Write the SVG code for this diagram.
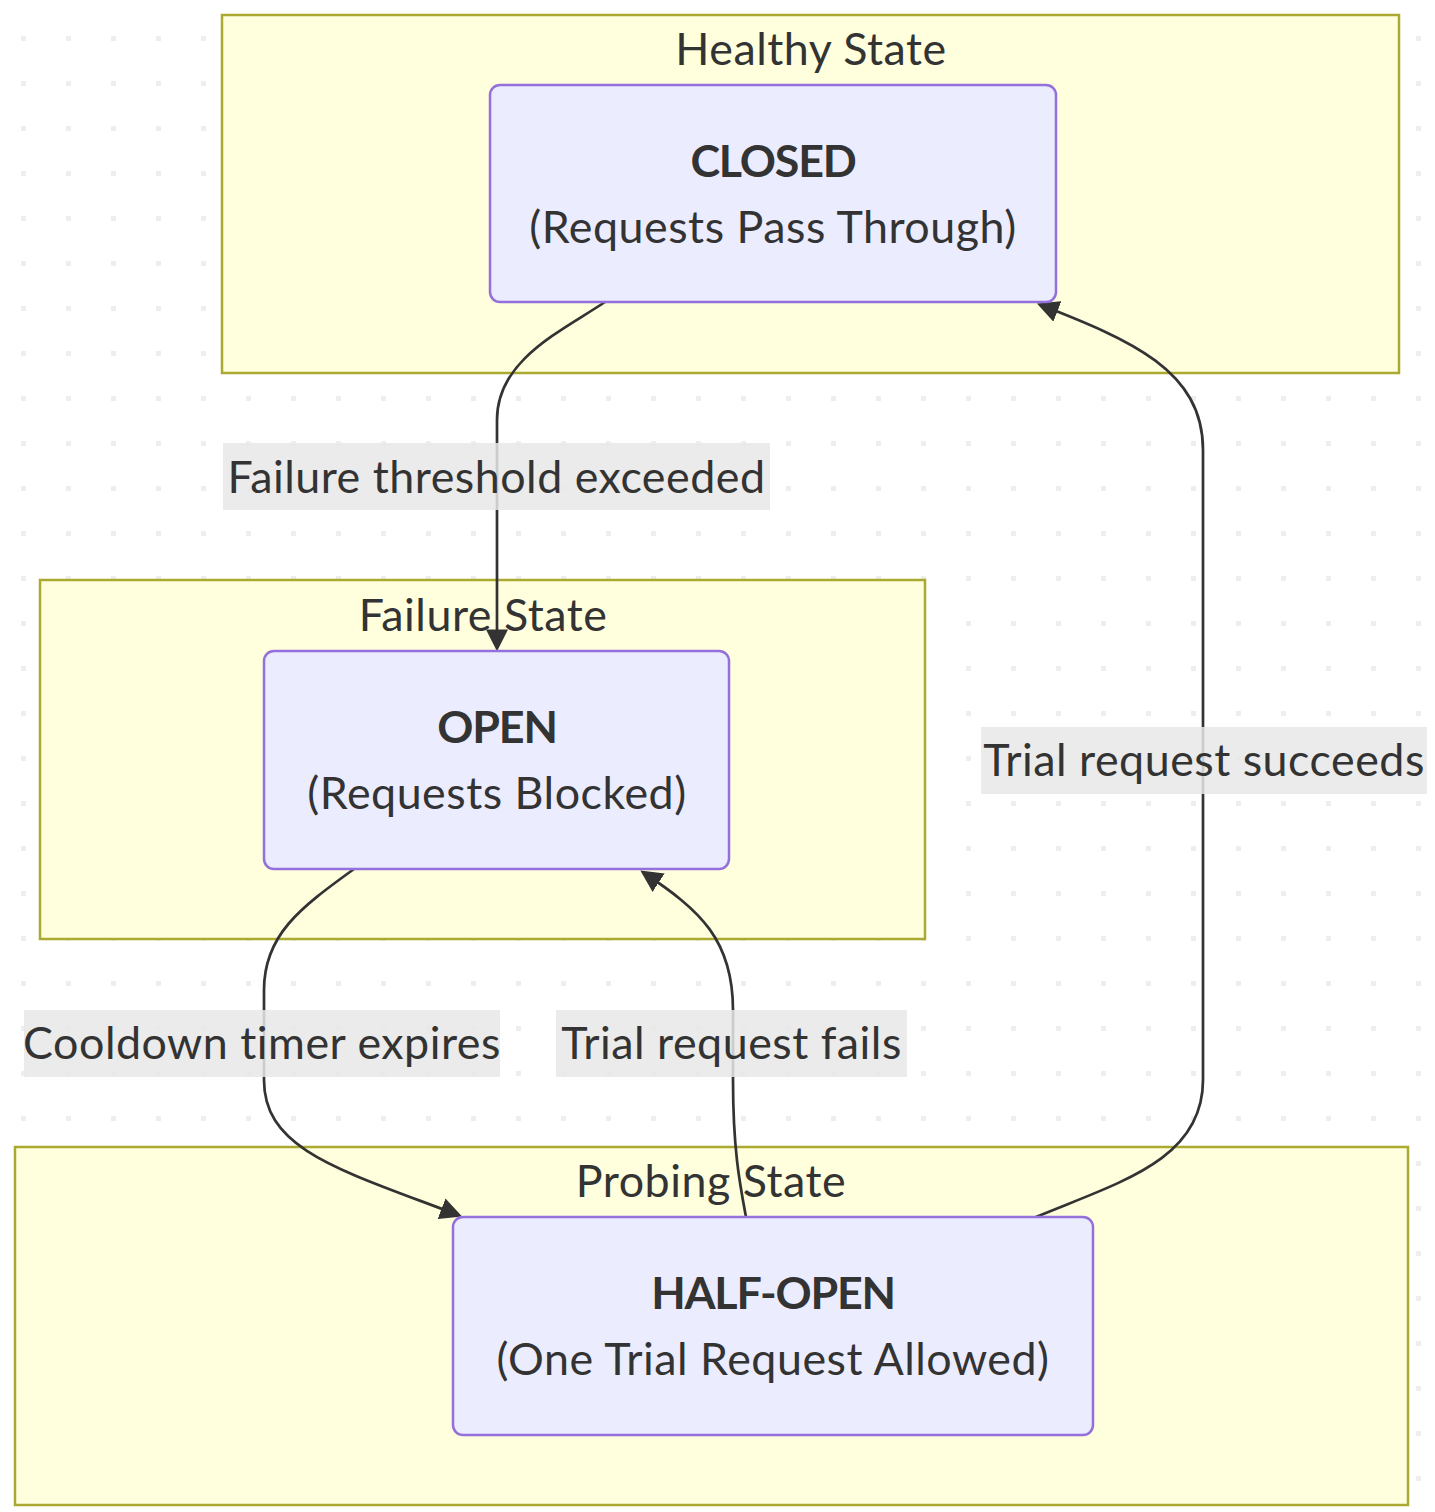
<svg xmlns="http://www.w3.org/2000/svg" width="1435" height="1512" viewBox="0 0 1435 1512">
<defs>
<pattern id="dots" x="0" y="0" width="45" height="45" patternUnits="userSpaceOnUse">
<rect x="21" y="36" width="5" height="5" fill="#eeeeee"/>
</pattern>
<marker id="arrow" viewBox="0 0 10 10" refX="8" refY="5" markerWidth="22" markerHeight="22" markerUnits="userSpaceOnUse" orient="auto">
<path d="M0,0 L10,5 L0,10 z" fill="#333333"/>
</marker>
</defs>
<style>
text { font-family: "Lato", "Liberation Sans", sans-serif; font-size: 44.8px; fill: #333333; text-anchor: middle; letter-spacing: 0.5px; }
.bold { font-weight: bold; letter-spacing: -1.2px; }
.cluster { fill: #ffffde; stroke: #aaaa33; stroke-width: 2.5; }
.node rect { fill: #ececff; stroke: #9370db; stroke-width: 2.5; }
.edge { fill: none; stroke: #333333; stroke-width: 2.7; marker-end: url(#arrow); }
.lbl { fill: #e8e8e8; opacity: 0.85; }
</style>
<rect width="1435" height="1512" fill="#ffffff"/>
<rect width="1435" height="1512" fill="url(#dots)"/>

<g id="cluster-healthy">
<rect class="cluster" x="222" y="15" width="1177" height="358"/>
<text x="811" y="65">Healthy State</text>
</g>
<g id="cluster-failure">
<rect class="cluster" x="40" y="580" width="885" height="359"/>
<text x="483" y="631">Failure State</text>
</g>
<g id="cluster-probing">
<rect class="cluster" x="15" y="1147" width="1393" height="358"/>
<text x="711" y="1197">Probing State</text>
</g>

<g id="connectors">
<path class="edge" d="M605,302 C560,332 497,360 497,420 L497,647"/>
<path class="edge" d="M354,869 C300,908 264,935 264,990 L264,1080 C264,1150 340,1170 458,1215"/>
<path class="edge" d="M746,1217 C740,1185 733,1150 733,1080 L733,1010 C733,940 700,910 644,873"/>
<path class="edge" d="M1036,1217 C1120,1182 1203,1160 1203,1080 L1203,450 C1203,370 1130,340 1041,305"/>
</g>

<g id="node-closed" class="node">
<rect x="490" y="85" width="566" height="217" rx="10" ry="10"/>
<text x="773" y="177" class="bold">CLOSED</text>
<text x="773" y="243">(Requests Pass Through)</text>
</g>
<g id="node-open" class="node">
<rect x="264" y="651" width="465" height="218" rx="10" ry="10"/>
<text x="497" y="743" class="bold">OPEN</text>
<text x="497" y="809">(Requests Blocked)</text>
</g>
<g id="node-halfopen" class="node">
<rect x="453" y="1217" width="640" height="218" rx="10" ry="10"/>
<text x="773" y="1309" class="bold">HALF-OPEN</text>
<text x="773" y="1375">(One Trial Request Allowed)</text>
</g>

<g id="edge-labels">
<g id="label-failure-threshold">
<rect class="lbl" x="223" y="443" width="547" height="67"/>
<text x="496.5" y="493">Failure threshold exceeded</text>
</g>
<g id="label-cooldown">
<rect class="lbl" x="24" y="1010" width="476" height="67"/>
<text x="262" y="1059">Cooldown timer expires</text>
</g>
<g id="label-trial-fails">
<rect class="lbl" x="556" y="1010" width="351" height="67"/>
<text x="731.5" y="1059">Trial request fails</text>
</g>
<g id="label-trial-succeeds">
<rect class="lbl" x="981" y="727" width="446" height="67"/>
<text x="1204" y="776">Trial request succeeds</text>
</g>
</g>
</svg>
